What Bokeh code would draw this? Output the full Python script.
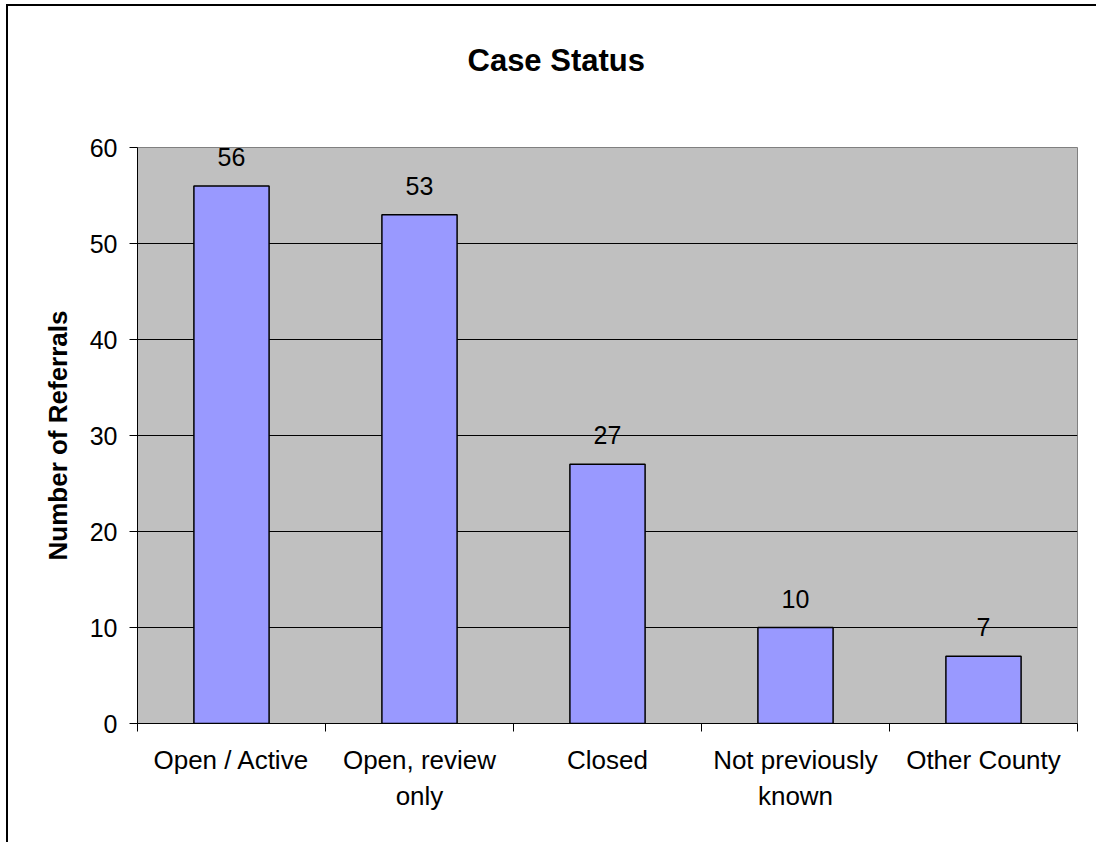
from bokeh.plotting import figure
from bokeh.models import FactorRange, Range1d, LinearAxis, FixedTicker, Title
from bokeh.core.properties import value
from bokeh.embed import file_html
from bokeh.resources import INLINE

categories = ["Open / Active", "Open, review\nonly", "Closed", "Not previously\nknown", "Other County"]
counts = [56, 53, 27, 10, 7]
y_ticks = [0, 10, 20, 30, 40, 50, 60]
title_text = "Case Status"
y_label = "Number of Referrals"

FONT = "Liberation Sans"

p = figure(
    width=1090, height=838,
    x_range=FactorRange(factors=categories, range_padding=0),
    y_range=Range1d(0, 60),
    output_backend="svg", toolbar_location=None,
    x_axis_location=None, y_axis_location=None,
    min_border_left=129, min_border_right=21, min_border_top=141, min_border_bottom=121,
    background_fill_color="#C0C0C0", border_fill_color="white",
    outline_line_color="#808080", outline_line_width=1,
    styles={"border-left": "2px solid black", "border-top": "2px solid black",
            "margin-left": "6px", "margin-top": "4px"},
)

p.vbar(x=categories, top=counts, width=0.4, fill_color="#9999FF",
       line_color="black", line_width=1.5)

p.text(x=categories, y=counts, text=[str(c) for c in counts],
       text_align="center", text_baseline="alphabetic", y_offset=-29,
       text_font=value(FONT), text_font_size="25px", text_color="black")

# y axis
yax = LinearAxis(ticker=FixedTicker(ticks=y_ticks, minor_ticks=[]))
yax.axis_line_color = "black"
yax.axis_line_width = 1
yax.major_tick_line_color = "black"
yax.major_tick_out = 8
yax.major_tick_in = 0
yax.minor_tick_line_color = None
yax.major_label_standoff = 12
yax.major_label_text_font = FONT
yax.major_label_text_font_size = "25px"
yax.major_label_text_color = "black"
yax.axis_label = y_label
yax.axis_label_text_font = FONT
yax.axis_label_text_font_size = "26px"
yax.axis_label_text_font_style = "bold"
yax.axis_label_text_color = "black"
yax.axis_label_standoff = 14
p.add_layout(yax, "left")

# x axis: category labels at centres, tick marks at category boundaries
centres = [i + 0.5 for i in range(len(categories))]
bounds = [float(i) for i in range(len(categories) + 1)]
xax = LinearAxis(ticker=FixedTicker(ticks=centres, minor_ticks=bounds))
xax.major_label_overrides = {c: cat for c, cat in zip(centres, categories)}
xax.axis_line_color = "black"
xax.axis_line_width = 1
xax.major_tick_line_color = None
xax.major_tick_out = 0
xax.major_tick_in = 0
xax.minor_tick_line_color = "black"
xax.minor_tick_out = 8
xax.minor_tick_in = 0
xax.major_label_standoff = 13
xax.major_label_text_font = FONT
xax.major_label_text_font_size = "26px"
xax.major_label_text_color = "black"
xax.major_label_text_line_height = 1.2
p.add_layout(xax, "below")

p.xgrid.visible = False
p.ygrid.grid_line_color = "black"
p.ygrid.grid_line_width = 1
p.ygrid.ticker = yax.ticker

# invisible spacer between the frame and the title
p.add_layout(Title(text=" ", text_font_size="10px", standoff=52), "above")

p.title.text = title_text
p.title.align = "left"
p.title.offset = 330
p.title.standoff = 10
p.title.text_font = FONT
p.title.text_font_size = "31px"
p.title.text_font_style = "bold"
p.title.text_color = "black"

open("out.html", "w").write(file_html(p, INLINE))
